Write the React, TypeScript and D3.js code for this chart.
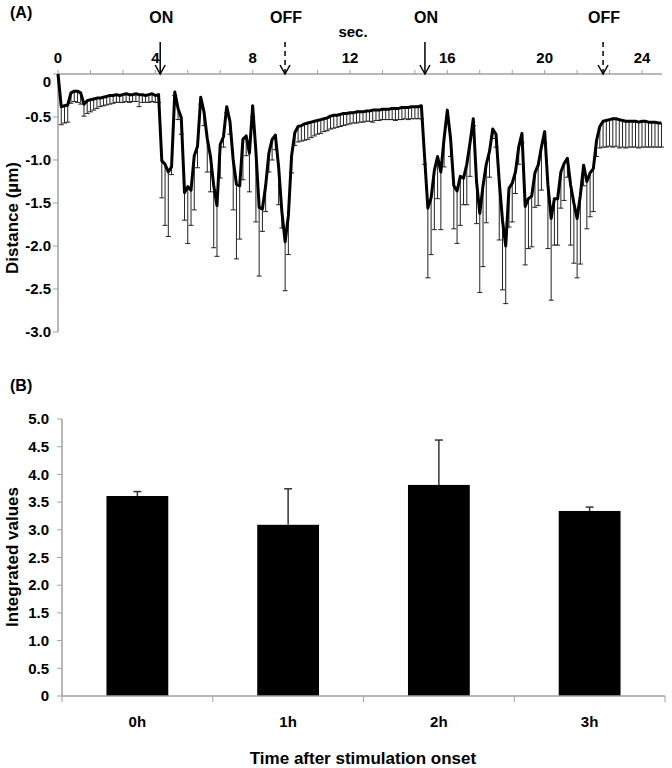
import React from "react";
import * as d3 from "d3";

// ---------- Panel A data (frames every 4/30 s) ----------
const frameInterval = 4 / 30;
const distanceMean = [
  0, -0.38, -0.37, -0.36, -0.22, -0.2, -0.2, -0.22, -0.35, -0.31,
  -0.3, -0.29, -0.28, -0.28, -0.27, -0.26, -0.25, -0.25, -0.24, -0.25,
  -0.24, -0.23, -0.24, -0.24, -0.23, -0.24, -0.24, -0.25, -0.24, -0.23,
  -0.25, -0.24, -1.01, -1.05, -1.14, -1.08, -0.21, -0.4, -0.51, -1.38,
  -1.31, -1.35, -0.95, -0.84, -0.27, -0.44, -0.75, -0.96, -1.3, -1.53,
  -0.82, -0.73, -0.38, -0.55, -1.0, -1.28, -1.3, -0.76, -0.72, -0.92,
  -0.37, -0.9, -1.55, -1.57, -1.3, -0.92, -0.76, -0.71, -1.08, -1.6,
  -1.95, -1.65, -0.95, -0.68, -0.61, -0.6, -0.58, -0.57, -0.56, -0.55,
  -0.54, -0.53, -0.52, -0.51, -0.49, -0.48, -0.48, -0.47, -0.46, -0.46,
  -0.45, -0.45, -0.44, -0.44, -0.44, -0.43, -0.43, -0.42, -0.42, -0.42,
  -0.41, -0.41, -0.41, -0.4, -0.4, -0.4, -0.39, -0.39, -0.39, -0.38,
  -0.38, -0.38, -0.37, -0.97, -1.56, -1.44, -1.12, -0.96, -1.14, -0.75,
  -0.42, -0.75, -1.3, -1.36, -1.19, -1.21, -1.05, -0.8, -0.52, -1.25,
  -1.62, -1.3, -1.05, -0.9, -0.64, -0.7, -1.25, -1.7, -2.0, -1.33,
  -1.27, -1.14, -0.85, -0.69, -1.54, -1.45, -1.42, -1.15, -1.06, -0.85,
  -0.67, -1.29, -1.68, -1.45, -1.45, -1.14, -1.04, -0.98, -1.29, -1.5,
  -1.68, -1.41, -1.06, -1.25, -1.15, -1.1, -0.77, -0.61, -0.55, -0.54,
  -0.53, -0.52, -0.52, -0.53, -0.54, -0.55, -0.55, -0.55, -0.55, -0.56,
  -0.55, -0.55, -0.56, -0.56, -0.56, -0.57, -0.57,
];
const distanceLower = [
  0, -0.59, -0.57, -0.56, -0.34, -0.32, -0.33, -0.35, -0.49, -0.46,
  -0.44, -0.42, -0.4, -0.38, -0.37, -0.36, -0.35, -0.34, -0.33, -0.33,
  -0.33, -0.32, -0.33, -0.32, -0.32, -0.38, -0.33, -0.33, -0.33, -0.32,
  -0.33, -0.33, -1.44, -1.76, -1.89, -1.17, -0.25, -0.53, -0.7, -1.7,
  -1.97, -1.76, -1.58, -1.09, -0.35, -0.6, -1.14, -1.37, -2.02, -2.12,
  -1.21, -0.85, -0.45, -0.7, -1.58, -2.15, -1.92, -1.23, -0.95, -1.37,
  -0.5, -1.72, -2.35, -1.83, -1.6, -1.14, -1.0, -0.88, -1.52, -1.79,
  -2.52, -2.1, -1.15, -0.83, -0.79, -0.78, -0.77, -0.76, -0.74, -0.72,
  -0.7, -0.69, -0.67, -0.66, -0.64, -0.63, -0.62, -0.61, -0.6, -0.59,
  -0.58, -0.57, -0.57, -0.56, -0.56, -0.55, -0.55, -0.56, -0.54, -0.54,
  -0.53, -0.53, -0.53, -0.53, -0.54, -0.53, -0.53, -0.52, -0.53, -0.52,
  -0.52, -0.52, -0.52, -1.05, -2.37, -2.1, -1.81, -1.45, -1.81, -1.08,
  -0.55, -0.96, -1.8, -1.97, -1.76, -1.52, -1.52, -1.19, -0.6, -1.74,
  -2.54, -2.24, -1.73, -1.2, -0.75, -0.85, -1.93, -2.51, -2.67, -1.78,
  -1.72, -1.39, -1.05, -0.8, -2.22, -2.03, -2.01, -1.55, -1.53, -1.35,
  -0.8, -2.03, -2.63, -1.99, -1.99, -1.56, -1.47, -1.2, -1.99, -2.2,
  -2.37, -2.21, -1.3, -1.8, -1.66, -1.6, -0.96, -0.86, -0.85, -0.85,
  -0.84, -0.85, -0.84, -0.86, -0.85, -0.86, -0.85, -0.85, -0.85, -0.86,
  -0.85, -0.85, -0.85, -0.85, -0.85, -0.85, -0.85,
];
const topXTickLabels = [0, 4, 8, 12, 16, 20, 24];
const topYTicks = [0, -0.5, -1.0, -1.5, -2.0, -2.5, -3.0];
const stimTimes = [4.2, 9.33, 15.08, 22.4];
const stimLabels = ["ON", "OFF", "ON", "OFF"];

// ---------- Panel B data ----------
const hourCategories = ["0h", "1h", "2h", "3h"];
const integratedValues = [3.61, 3.09, 3.81, 3.34];
const integratedErrors = [0.08, 0.65, 0.81, 0.07];
const bottomYTicks = [0, 0.5, 1.0, 1.5, 2.0, 2.5, 3.0, 3.5, 4.0, 4.5, 5.0];

const FONT = "'Liberation Sans', Arial, Helvetica, sans-serif";
const AXIS = "#a0a0a0";

export default function App() {
  // Panel A scales
  const xA = d3.scaleLinear().domain([0, 24]).range([58, 642]);
  const yA = d3.scaleLinear().domain([0, -3]).range([74, 332]);
  const times = distanceMean.map((_, i) => i * frameInterval);
  const line = d3
    .line<number>()
    .x((_, i) => xA(times[i]))
    .y((d) => yA(d))
    .curve(d3.curveLinear);
  const minorTicks = d3.range(0, 19).map((k) => (k * 4) / 3);
  const xEndA = 662;

  // Panel B scales
  const xB = d3.scaleBand().domain(hourCategories).range([62, 665]).paddingInner(0).paddingOuter(0);
  const yB = d3.scaleLinear().domain([0, 5]).range([696, 419]);
  const barW = xB.bandwidth() * 0.41;

  return (
    <svg
      width={672}
      height={768}
      style={{ position: "absolute", left: 0, top: 0, background: "#fff" }}
      fontFamily={FONT}
      fontWeight="bold"
    >
      <rect x={0} y={0} width={672} height={768} fill="#fff" />
      {/* ---------- Panel A ---------- */}
      <text x={10} y={18} fontSize={16}>(A)</text>
      {/* x axis at top */}
      <line x1={xA(0)} x2={xEndA} y1={yA(0)} y2={yA(0)} stroke={AXIS} strokeWidth={1.5} />
      {minorTicks.map((t) => (
        <line key={"mt" + t} x1={xA(t)} x2={xA(t)} y1={yA(0) - 4} y2={yA(0)} stroke={AXIS} strokeWidth={1} />
      ))}
      {topXTickLabels.map((t) => (
        <text key={"xl" + t} x={xA(t)} y={63} fontSize={15} textAnchor="middle">{t}</text>
      ))}
      <text x={353} y={37} fontSize={15} textAnchor="middle">sec.</text>
      {/* y axis */}
      <line x1={58} x2={58} y1={yA(0)} y2={yA(-3)} stroke={AXIS} strokeWidth={1.5} />
      {topYTicks.map((v) => (
        <g key={"yt" + v}>
          <line x1={53} x2={58} y1={yA(v)} y2={yA(v)} stroke={AXIS} strokeWidth={1} />
          <text x={51} y={yA(v) + (v === 0 ? 8 : 0)} dy="0.35em" fontSize={15} textAnchor="end">
            {v === 0 ? "0" : v.toFixed(1)}
          </text>
        </g>
      ))}
      <text transform="translate(18,218) rotate(-90)" fontSize={17} textAnchor="middle">Distance (µm)</text>

      {/* stimulation arrows */}
      {stimTimes.map((t, k) => {
        const x = xA(t);
        const dashed = stimLabels[k] === "OFF";
        return (
          <g key={"st" + k} stroke="#000" strokeWidth={1.5} fill="none">
            <line x1={x} x2={x} y1={42} y2={yA(0)} strokeDasharray={dashed ? "5,4" : undefined} />
            <polyline points={`${x - 5},${yA(0) - 9} ${x},${yA(0)} ${x + 5},${yA(0) - 9}`} />
            <text x={x + 1} y={23} fontSize={16} textAnchor="middle" fill="#000" stroke="none">
              {stimLabels[k]}
            </text>
          </g>
        );
      })}

      {/* error bars */}
      {distanceMean.map((m, i) => {
        const x = xA(times[i]);
        const lo = distanceLower[i];
        if (lo >= m) return null;
        return (
          <g key={"eb" + i} stroke="#222" strokeWidth={1}>
            <line x1={x} x2={x} y1={yA(m)} y2={yA(lo)} />
            <line x1={x - 2.5} x2={x + 2.5} y1={yA(lo)} y2={yA(lo)} />
          </g>
        );
      })}
      <path d={line(distanceMean) || ""} fill="none" stroke="#000" strokeWidth={3} strokeLinejoin="round" />

      {/* ---------- Panel B ---------- */}
      <text x={10} y={391} fontSize={16}>(B)</text>
      <line x1={62} x2={62} y1={yB(0)} y2={yB(5)} stroke={AXIS} strokeWidth={1.5} />
      {bottomYTicks.map((v) => (
        <g key={"by" + v}>
          <line x1={57} x2={62} y1={yB(v)} y2={yB(v)} stroke={AXIS} strokeWidth={1} />
          <text x={49} y={yB(v)} dy="0.35em" fontSize={15} textAnchor="end">
            {v === 0 ? "0" : v.toFixed(1)}
          </text>
        </g>
      ))}
      <text transform="translate(18,557) rotate(-90)" fontSize={17} textAnchor="middle">Integrated values</text>
      {hourCategories.map((c, i) => {
        const cx = (xB(c) as number) + xB.bandwidth() / 2;
        const v = integratedValues[i];
        const e = integratedErrors[i];
        return (
          <g key={"bar" + c}>
            <rect x={cx - barW / 2} y={yB(v)} width={barW} height={yB(0) - yB(v)} fill="#000" />
            <line x1={cx} x2={cx} y1={yB(v)} y2={yB(v + e)} stroke="#333" strokeWidth={1.5} />
            <line x1={cx - 4} x2={cx + 4} y1={yB(v + e)} y2={yB(v + e)} stroke="#333" strokeWidth={1.5} />
            <text x={cx} y={727} fontSize={15} textAnchor="middle">{c}</text>
          </g>
        );
      })}
      <line x1={62} x2={665} y1={yB(0)} y2={yB(0)} stroke={AXIS} strokeWidth={1.5} />
      {d3.range(0, 5).map((k) => {
        const x = 62 + k * xB.bandwidth();
        return <line key={"bt" + k} x1={x} x2={x} y1={yB(0)} y2={yB(0) + 6} stroke={AXIS} strokeWidth={1} />;
      })}
      <text x={363} y={764} fontSize={17} textAnchor="middle">Time after stimulation onset</text>
    </svg>
  );
}
